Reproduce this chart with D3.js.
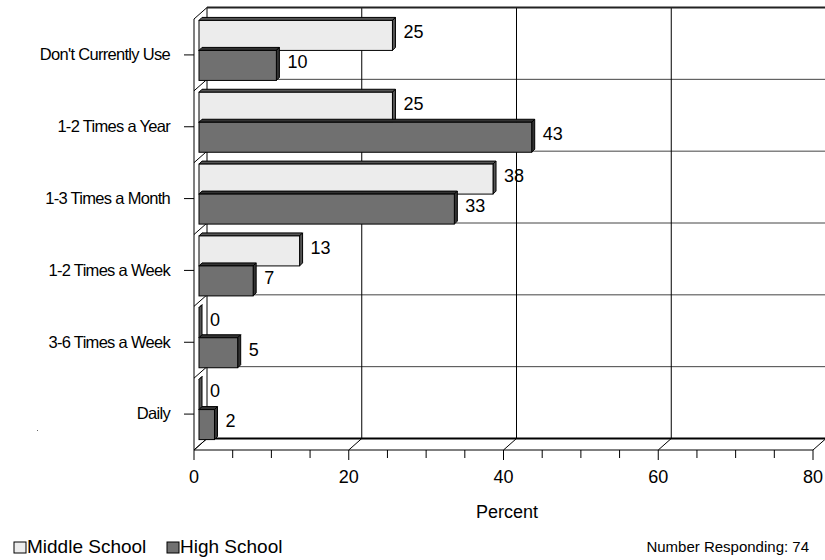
<!DOCTYPE html>
<html>
<head>
<meta charset="utf-8">
<script src="https://cdn.jsdelivr.net/npm/d3@7"></script>
<style>
  body { margin: 0; background: #fff; }
  svg { font-family: "Liberation Sans", Arial, sans-serif; }
</style>
</head>
<body>
<div class="chart"></div>
<script>
const categories = ["Don't Currently Use", "1-2 Times a Year", "1-3 Times a Month", "1-2 Times a Week", "3-6 Times a Week", "Daily"];
const middleSchool = [25, 25, 38, 13, 0, 0];
const highSchool = [10, 43, 33, 7, 5, 2];
const seriesNames = ["Middle School", "High School"];
const xTicks = [0, 20, 40, 60, 80];
const respondents = 74;

const width = 825, height = 560;
const depthX = 13, depthY = -11.5;   // wall depth
const barOffX = 5, barOffY = -4.5;  // bars sit a little inside
const barDepth = 3;
const fills = ["#ececec", "#707070"];
const sides = ["#555555", "#333333"];
const fontSize = 18;

const svg = d3.select('.chart').append('svg')
    .attr('width', width).attr('height', height);

const x = d3.scaleLinear().domain([0, 80]).range([194, 813]);
const y = d3.scaleBand().domain(categories).range([19, 450]);

const plotTop = y.range()[0], plotBottom = y.range()[1];

const walls = svg.append('g').attr('stroke', '#000').attr('fill', 'none');

// back wall horizontal lines at category boundaries
const bounds = categories.map(c => y(c)).concat([plotBottom]);
walls.selectAll('.hgrid')
    .data(bounds.slice(1, -1))
    .enter().append('line')
    .attr('x1', x(0) + depthX).attr('x2', x(80) + depthX)
    .attr('y1', d => d + depthY).attr('y2', d => d + depthY)
    .attr('stroke', '#444').attr('stroke-width', 1);

// left wall diagonals
walls.selectAll('.ldiag')
    .data(bounds)
    .enter().append('line')
    .attr('x1', x(0)).attr('y1', d => d)
    .attr('x2', x(0) + depthX).attr('y2', d => d + depthY)
    .attr('stroke-width', 1);

// back wall vertical gridlines
walls.selectAll('.vgrid')
    .data(xTicks.slice(1, -1))
    .enter().append('line')
    .attr('x1', d => x(d) + depthX).attr('x2', d => x(d) + depthX)
    .attr('y1', plotTop + depthY).attr('y2', plotBottom + depthY)
    .attr('stroke-width', 1);

// floor diagonals
walls.selectAll('.fdiag')
    .data(xTicks)
    .enter().append('line')
    .attr('x1', d => x(d)).attr('y1', plotBottom)
    .attr('x2', d => x(d) + depthX).attr('y2', plotBottom + depthY)
    .attr('stroke-width', 1);

// back-left edge
walls.append('line')
    .attr('x1', x(0) + depthX).attr('x2', x(0) + depthX)
    .attr('y1', plotTop + depthY).attr('y2', plotBottom + depthY);
// front-left edge
walls.append('line')
    .attr('x1', x(0)).attr('x2', x(0))
    .attr('y1', plotTop).attr('y2', plotBottom);
// top back edge
walls.append('line')
    .attr('x1', x(0) + depthX).attr('x2', x(80) + depthX)
    .attr('y1', plotTop + depthY).attr('y2', plotTop + depthY)
    .attr('stroke', '#222').attr('stroke-width', 2);
// floor back edge
walls.append('line')
    .attr('x1', x(0) + depthX).attr('x2', x(80) + depthX)
    .attr('y1', plotBottom + depthY).attr('y2', plotBottom + depthY)
    .attr('stroke-width', 2);

// bars
const rows = [];
categories.forEach((c, i) => {
    [middleSchool[i], highSchool[i]].forEach((v, s) => rows.push({cat: c, s: s, v: v}));
});
const barH = 30;
function barTop(d) {
    const mid = y(d.cat) + y.bandwidth() / 2 + barOffY;
    return mid - barH + d.s * barH;
}
const bars = svg.append('g').selectAll('g')
    .data(rows).enter().append('g');

bars.each(function(d) {
    const g = d3.select(this);
    const x0 = x(0) + barOffX, x1 = x(d.v) + barOffX;
    const y0 = barTop(d), y1 = y0 + barH;
    // top face
    g.append('path')
        .attr('d', `M${x0},${y0}L${x0 + barDepth},${y0 - barDepth}L${x1 + barDepth},${y0 - barDepth}L${x1},${y0}Z`)
        .attr('fill', sides[d.s]).attr('stroke', '#000').attr('stroke-width', 1);
    // side face
    g.append('path')
        .attr('d', `M${x1},${y0}L${x1 + barDepth},${y0 - barDepth}L${x1 + barDepth},${y1 - barDepth}L${x1},${y1}Z`)
        .attr('fill', sides[d.s]).attr('stroke', '#000').attr('stroke-width', 1);
    // front face
    g.append('rect')
        .attr('x', x0).attr('y', y0)
        .attr('width', x1 - x0).attr('height', barH)
        .attr('fill', fills[d.s]).attr('stroke', '#000').attr('stroke-width', 1);
    g.append('text')
        .attr('x', x1 + barDepth + 8)
        .attr('y', y0 + barH / 2 - 2)
        .attr('dominant-baseline', 'middle')
        .attr('font-size', fontSize)
        .text(d.v);
});

// front axis
const axis = svg.append('g');
axis.append('line')
    .attr('x1', x(0)).attr('x2', x(80))
    .attr('y1', plotBottom).attr('y2', plotBottom)
    .attr('stroke', '#000');
axis.selectAll('.tick')
    .data(d3.range(0, 81, 5))
    .enter().append('line')
    .attr('x1', d => x(d)).attr('x2', d => x(d))
    .attr('y1', plotBottom).attr('y2', d => plotBottom + (d % 20 === 0 ? 10 : 8))
    .attr('stroke', '#000');
axis.selectAll('.tl')
    .data(xTicks)
    .enter().append('text')
    .attr('x', d => x(d)).attr('y', 478)
    .attr('text-anchor', 'middle')
    .attr('dominant-baseline', 'middle')
    .attr('font-size', fontSize)
    .text(d => d);

svg.append('text')
    .attr('x', 507).attr('y', 513)
    .attr('text-anchor', 'middle')
    .attr('dominant-baseline', 'middle')
    .attr('font-size', fontSize)
    .text('Percent');

// category axis
const yAxis = svg.append('g');
yAxis.selectAll('line')
    .data(categories).enter().append('line')
    .attr('x1', 184).attr('x2', x(0))
    .attr('y1', d => y(d) + y.bandwidth() / 2)
    .attr('y2', d => y(d) + y.bandwidth() / 2)
    .attr('stroke', '#000');
yAxis.selectAll('text')
    .data(categories).enter().append('text')
    .attr('x', 170)
    .attr('y', d => y(d) + y.bandwidth() / 2 + 1)
    .attr('text-anchor', 'end')
    .attr('dominant-baseline', 'middle')
    .attr('font-size', 16.5)
    .attr('letter-spacing', -0.7)
    .text(d => d);

// stray dot
svg.append('rect').attr('x', 37).attr('y', 430).attr('width', 1).attr('height', 1).attr('fill', '#666');

// legend
const legend = svg.append('g');
const legX = [14, 167];
seriesNames.forEach((n, i) => {
    legend.append('rect')
        .attr('x', legX[i]).attr('y', 542)
        .attr('width', 12).attr('height', 11)
        .attr('fill', fills[i]).attr('stroke', '#000');
    legend.append('text')
        .attr('x', legX[i] + 13).attr('y', 548)
        .attr('dominant-baseline', 'middle')
        .attr('font-size', 19)
        .text(n);
});

svg.append('text')
    .attr('x', 809).attr('y', 548)
    .attr('text-anchor', 'end')
    .attr('dominant-baseline', 'middle')
    .attr('font-size', 15)
    .text('Number Responding: ' + respondents);
</script>
</body>
</html>
